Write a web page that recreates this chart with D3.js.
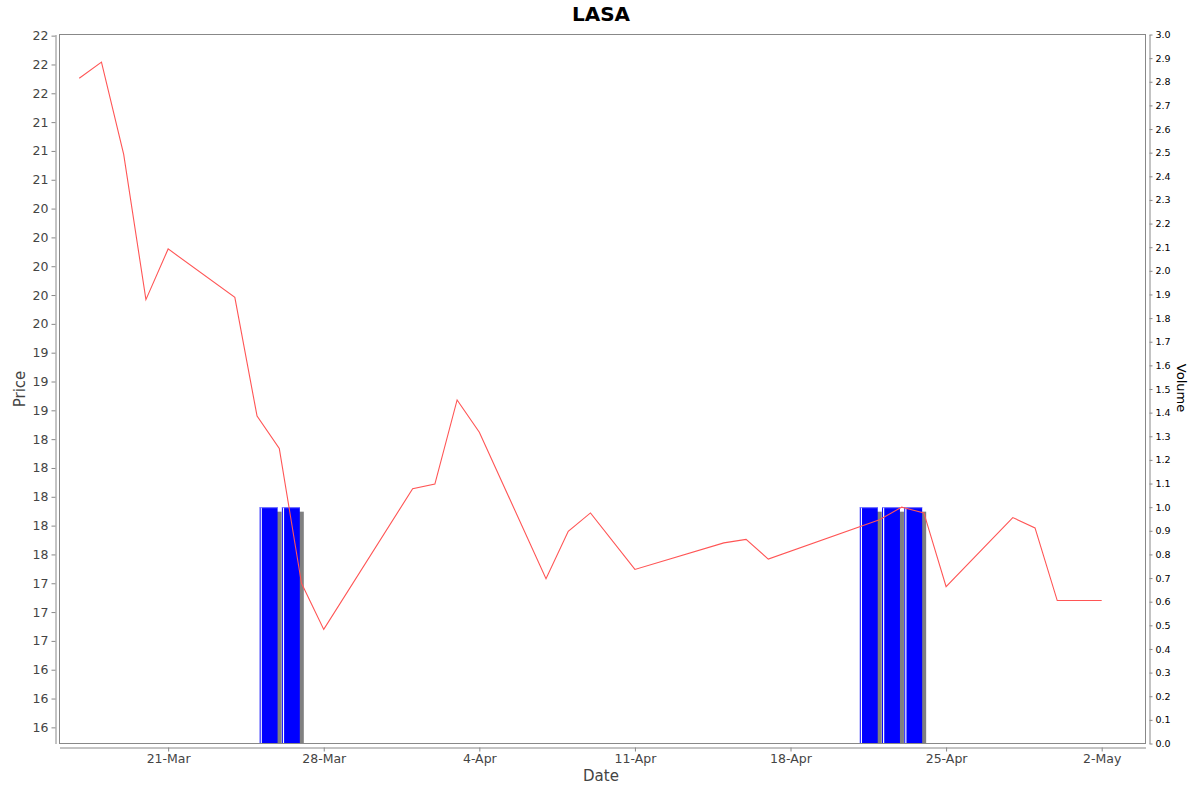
<!DOCTYPE html>
<html>
<head>
<meta charset="utf-8">
<script src="https://cdn.jsdelivr.net/npm/d3@7"></script>
<style>
  html, body { margin: 0; padding: 0; background: #fff; }
  svg { display: block; font-family: "DejaVu Sans", sans-serif; }
</style>
</head>
<body>
<svg id="chart" width="1200" height="792"></svg>
<script>
// ---- data ----------------------------------------------------------------
const priceDates = [
  "2025-03-17", "2025-03-18", "2025-03-19", "2025-03-20", "2025-03-21",
  "2025-03-24", "2025-03-25", "2025-03-26", "2025-03-27", "2025-03-28",
  "2025-04-01", "2025-04-02", "2025-04-03", "2025-04-04",
  "2025-04-07", "2025-04-08", "2025-04-09", "2025-04-11",
  "2025-04-15", "2025-04-16", "2025-04-17",
  "2025-04-22", "2025-04-23", "2025-04-24", "2025-04-25",
  "2025-04-28", "2025-04-29", "2025-04-30", "2025-05-02",
];
const priceValues = [
  21.63, 21.77, 20.97, 19.71, 20.15,
  19.73, 18.70, 18.42, 17.25, 16.85,
  18.07, 18.11, 18.84, 18.56,
  17.29, 17.70, 17.86, 17.37,
  17.60, 17.63, 17.46,
  17.80, 17.91, 17.86, 17.22,
  17.82, 17.73, 17.10, 17.10,
];
// volume bars (each bar covers the day that ends on its date)
const volumeDates = ["2025-03-26", "2025-03-27", "2025-04-22", "2025-04-23", "2025-04-24"];
const volumeValues = [1.0, 1.0, 1.0, 1.0, 1.0];

const dateTickDates  = ["2025-03-21", "2025-03-28", "2025-04-04", "2025-04-11", "2025-04-18", "2025-04-25", "2025-05-02"];
const dateTickLabels = ["21-Mar", "28-Mar", "4-Apr", "11-Apr", "18-Apr", "25-Apr", "2-May"];

const priceDomain  = [15.86, 22.01];
const volumeDomain = [0, 3.0];
const dateDomain   = ["2025-03-16T02:41:00Z", "2025-05-03T23:18:00Z"];

// ---- layout ----------------------------------------------------------------
const W = 1200, H = 792;
const plot = { left: 59.5, top: 34.5, right: 1145.5, bottom: 743.5 };
const DAY = 864e5;
const parse = (s) => new Date(s.length === 10 ? s + "T00:00:00Z" : s);

const svg = d3.select("#chart");
svg.append("rect").attr("width", W).attr("height", H).attr("fill", "#fff");

const x = d3.scaleUtc().domain(dateDomain.map(parse)).range([plot.left, plot.right]);
const yP = d3.scaleLinear().domain(priceDomain).range([plot.bottom, plot.top]);
const yV = d3.scaleLinear().domain(volumeDomain).range([plot.bottom, plot.top]);

// Java style rounding (HALF_EVEN) for the integer price labels
function halfEven(v) {
  const f = Math.floor(v), d = v - f;
  if (Math.abs(d - 0.5) < 1e-9) return f % 2 === 0 ? f : f + 1;
  return Math.round(v);
}

// ---- plot area ---------------------------------------------------------------
const clip = svg.append("clipPath").attr("id", "clip").append("rect")
  .attr("x", plot.left).attr("y", plot.top)
  .attr("width", plot.right - plot.left).attr("height", plot.bottom - plot.top);

const g = svg.append("g").attr("clip-path", "url(#clip)");

const vol = volumeDates.map((d, i) => ({ end: parse(d), v: volumeValues[i] }));
const bx0 = (d) => x(new Date(d.end - DAY)) + 2.6;
const bx1 = (d) => x(d.end) - 1.7;

// shadows
g.append("g").selectAll("rect").data(vol).enter().append("rect")
  .attr("x", (d) => bx0(d) + 4).attr("y", (d) => yV(d.v) + 4.5)
  .attr("width", (d) => bx1(d) - bx0(d)).attr("height", (d) => plot.bottom - yV(d.v))
  .attr("fill", "#808080");
// bars
const bars = g.append("g").selectAll("g").data(vol).enter().append("g");
bars.append("rect")
  .attr("x", bx0).attr("y", (d) => yV(d.v))
  .attr("width", (d) => bx1(d) - bx0(d)).attr("height", (d) => plot.bottom - yV(d.v))
  .attr("fill", "#0000ff");
bars.append("rect")
  .attr("x", (d) => bx0(d) + 1).attr("y", (d) => yV(d.v))
  .attr("width", 1.2).attr("height", (d) => plot.bottom - yV(d.v))
  .attr("fill", "#ffffff");
bars.append("rect")
  .attr("x", bx0).attr("y", (d) => yV(d.v))
  .attr("width", (d) => bx1(d) - bx0(d)).attr("height", 1)
  .attr("fill", "#8080ff");

// price line
const pts = priceDates.map((d, i) => ({ t: parse(d), v: priceValues[i] }));
g.append("path").datum(pts)
  .attr("fill", "none").attr("stroke", "#ff5555").attr("stroke-width", 1.1)
  .attr("d", d3.line().x((d) => x(d.t)).y((d) => yP(d.v)));

// plot outline
svg.append("rect")
  .attr("x", plot.left).attr("y", plot.top)
  .attr("width", plot.right - plot.left).attr("height", plot.bottom - plot.top)
  .attr("fill", "none").attr("stroke", "#888").attr("stroke-width", 1);

// ---- axes ----------------------------------------------------------------------
function styleAxis(sel, color, size) {
  sel.select(".domain").attr("stroke", "#888");
  sel.selectAll(".tick line").attr("stroke", "#888");
  sel.selectAll(".tick text").attr("fill", color).attr("font-size", size)
    .attr("font-family", "DejaVu Sans, sans-serif");
}

const priceTicks = d3.range(16, 22.001, 0.25);
const leftAxis = svg.append("g").attr("transform", "translate(55.5,0)")
  .call(d3.axisLeft(yP).tickValues(priceTicks).tickFormat((v) => String(halfEven(v)))
    .tickSizeOuter(0).tickSizeInner(4).tickPadding(3));
styleAxis(leftAxis, "#444", 12.5);

const volTicks = d3.range(0, 3.001, 0.1);
const rightAxis = svg.append("g").attr("transform", "translate(1149.5,0)")
  .call(d3.axisRight(yV).tickValues(volTicks).tickFormat(d3.format(".1f"))
    .tickSizeOuter(0).tickSizeInner(3).tickPadding(3));
styleAxis(rightAxis, "#000", 9.5);

const bottomAxis = svg.append("g").attr("transform", "translate(0,747.5)")
  .call(d3.axisBottom(x).tickValues(dateTickDates.map(parse))
    .tickFormat((d, i) => dateTickLabels[i]).tickSizeOuter(0).tickSizeInner(4).tickPadding(3));
styleAxis(bottomAxis, "#444", 12.5);

// ---- titles ------------------------------------------------------------------
svg.append("text").attr("x", 601).attr("y", 21)
  .attr("text-anchor", "middle").attr("font-size", 20).attr("font-weight", "bold")
  .attr("fill", "#000").text("LASA");

svg.append("text").attr("x", 601).attr("y", 781)
  .attr("text-anchor", "middle").attr("font-size", 15).attr("fill", "#444").text("Date");

svg.append("text").attr("transform", "translate(25,389) rotate(-90)")
  .attr("text-anchor", "middle").attr("font-size", 15).attr("fill", "#444").text("Price");

svg.append("text").attr("transform", "translate(1177,388) rotate(90)")
  .attr("text-anchor", "middle").attr("font-size", 13).attr("fill", "#000").text("Volume");
</script>
</body>
</html>
